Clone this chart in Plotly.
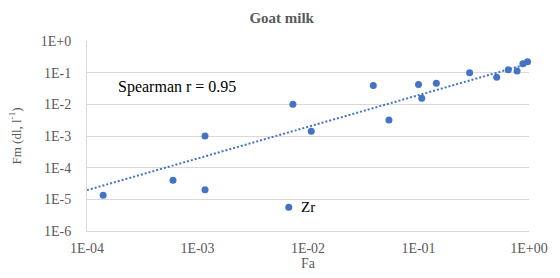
import numpy as np
import plotly.graph_objects as go

fa = [1.4e-4, 6.0e-4, 1.17e-3, 1.17e-3, 7.3e-3, 1.07e-2, 6.7e-3, 3.9e-2, 5.4e-2,
      0.100, 0.107, 0.145, 0.29, 0.51, 0.65, 0.78, 0.88, 0.97]
fm = [1.35e-5, 4.0e-5, 2.0e-5, 1.0e-3, 1.0e-2, 1.4e-3, 5.6e-6, 3.9e-2, 3.2e-3,
      4.2e-2, 1.55e-2, 4.6e-2, 0.10, 0.072, 0.123, 0.112, 0.19, 0.22]

x_tickvals = [1e-4, 1e-3, 1e-2, 1e-1, 1e0]
x_ticktext = ["1E-04", "1E-03", "1E-02", "1E-01", "1E+00"]
y_tickvals = [1e-6, 1e-5, 1e-4, 1e-3, 1e-2, 1e-1, 1e0]
y_ticktext = ["1E-6", "1E-5", "1E-4", "1E-3", "1E-2", "1E-1", "1E+0"]

zr_label = "Zr"
zr_index = 6
spearman_text = "Spearman r = 0.95"

# power trendline: log10(Fm) = intercept + slope * log10(Fa)
trend_slope = 1.0
trend_log_intercept = -0.71
trend_fa = [1e-4, 1e0]

tx = np.array(trend_fa)
ty = 10 ** (trend_log_intercept + trend_slope * np.log10(tx))

blue = "#4472C4"
grey = "#595959"
font = "Liberation Serif, Times New Roman, Times, serif"

fig = go.Figure()
fig.add_trace(go.Scatter(x=tx, y=ty, mode="lines",
                         line=dict(color=blue, width=2, dash="2px,2px"),
                         hoverinfo="skip", showlegend=False))
fig.add_trace(go.Scatter(x=fa, y=fm, mode="markers",
                         marker=dict(color=blue, size=7),
                         cliponaxis=False, showlegend=False))

fig.add_annotation(x=np.log10(fa[zr_index]), y=np.log10(fm[zr_index]),
                   text=zr_label, showarrow=False, xanchor="left", xshift=10,
                   font=dict(family=font, size=15, color="black"))
fig.add_annotation(x=0.065, y=0.758, xref="paper", yref="paper",
                   text=spearman_text, showarrow=False, xanchor="left", yanchor="middle",
                   font=dict(family=font, size=16, color="black"))

fig.update_layout(
    width=560, height=278,
    margin=dict(l=87, r=23, t=41, b=43),
    paper_bgcolor="white", plot_bgcolor="white",
    title=dict(text="<b>Goat milk</b>", x=0.503, xanchor="center",
               y=0.935, yanchor="middle",
               font=dict(family=font, size=15, color=grey)),
    font=dict(family=font, size=14, color=grey),
)
fig.update_xaxes(type="log", range=[-4, 0], tickvals=x_tickvals, ticktext=x_ticktext,
                 showgrid=False, showline=True, linecolor="#d9d9d9", linewidth=1,
                 ticks="", ticklabelstandoff=4,
                 title=dict(text="Fa", standoff=0, font=dict(size=14, color=grey)),
                 zeroline=False)
fig.update_yaxes(type="log", range=[-6, 0], tickvals=y_tickvals, ticktext=y_ticktext,
                 showgrid=True, gridcolor="#d9d9d9", gridwidth=1,
                 showline=True, linecolor="#d9d9d9", linewidth=1,
                 ticks="", ticklabelstandoff=12,
                 title=dict(text="Fm (dl, l<sup>-1</sup>)", standoff=16,
                            font=dict(size=13, color=grey)),
                 zeroline=False)

fig.write_html("out.html", config={"displayModeBar": False},
               post_script="document.body.style.margin='0px';")
